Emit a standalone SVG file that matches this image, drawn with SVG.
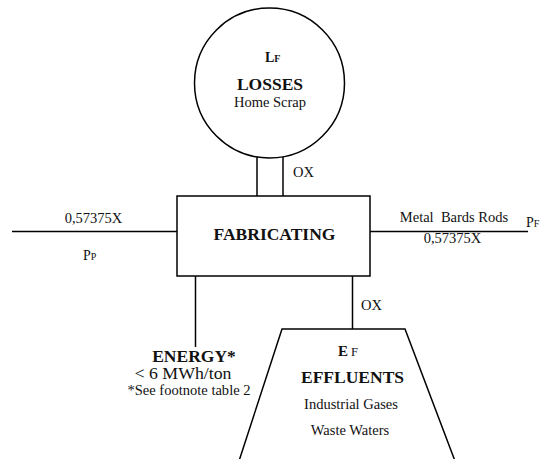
<svg xmlns="http://www.w3.org/2000/svg" width="543" height="459" viewBox="0 0 543 459">
  <style>
    .shape { fill: #ffffff; stroke: #000000; stroke-width: 1.5; }
    .line { fill: none; stroke: #000000; stroke-width: 1.5; }
    text { font-family: "Liberation Serif", "Times New Roman", serif; fill: #111111; }
    .head { font-weight: bold; font-size: 17.5px; }
    .body { font-size: 14.5px; }
    .mid { text-anchor: middle; }
  </style>
  <rect width="543" height="459" fill="#ffffff"/>

  <!-- flows between the process blocks -->
  <g id="connectors">
    <!-- double stem from the fabricating block up to losses -->
    <line class="line" x1="257" y1="157" x2="257" y2="196"/>
    <line class="line" x1="283" y1="157" x2="283" y2="196"/>
    <!-- raw material in -->
    <line class="line" x1="12" y1="231.5" x2="177" y2="231.5"/>
    <!-- product out -->
    <line class="line" x1="370" y1="231.5" x2="528" y2="231.5"/>
    <!-- energy leg -->
    <line class="line" x1="195.5" y1="276" x2="195.5" y2="347"/>
    <!-- effluent leg -->
    <line class="line" x1="352.5" y1="276" x2="352.5" y2="329"/>
    <text class="body" x="293" y="177">OX</text>
    <text class="body" x="361" y="310">OX</text>
  </g>

  <g id="losses">
    <circle class="shape" cx="269.5" cy="83" r="75"/>
    <text x="265" y="62" font-weight="bold" font-size="14px">L<tspan font-size="10px">F</tspan></text>
    <text class="head mid" x="270" y="90" font-size="17px">LOSSES</text>
    <text class="body mid" x="270" y="107" font-size="15px">Home Scrap</text>
  </g>

  <g id="fabricating">
    <rect class="shape" x="177" y="196" width="193" height="80"/>
    <text class="head mid" x="274.5" y="240" font-size="18px">FABRICATING</text>
  </g>

  <g id="input">
    <text class="body mid" x="93.5" y="223">0,57375X</text>
    <text x="83" y="260" font-size="14px">P<tspan font-size="10px">P</tspan></text>
  </g>

  <g id="output">
    <text class="body mid" x="454" y="222" xml:space="preserve">Metal  Bards Rods</text>
    <text class="body mid" x="452.5" y="243">0,57375X</text>
    <text x="526" y="227" font-size="14px">P<tspan font-size="10px">F</tspan></text>
  </g>

  <g id="energy">
    <text class="head mid" x="194" y="362">ENERGY*</text>
    <text class="mid" x="183" y="379" font-size="16px" textLength="97" lengthAdjust="spacingAndGlyphs">&lt; 6 MWh/ton</text>
    <text class="mid" x="189" y="395" font-size="14px" textLength="123" lengthAdjust="spacingAndGlyphs">*See footnote table 2</text>
  </g>

  <g id="effluents">
    <polygon class="shape" points="282,329 405,329 455,461 239,461"/>
    <text x="338" y="356" font-weight="bold" font-size="15px">E<tspan font-weight="normal" font-size="12.5px" dx="3">F</tspan></text>
    <text class="head mid" x="352.5" y="382.5" font-size="17.8px">EFFLUENTS</text>
    <text class="body mid" x="351" y="409">Industrial Gases</text>
    <text class="body mid" x="350" y="435">Waste Waters</text>
  </g>
</svg>
